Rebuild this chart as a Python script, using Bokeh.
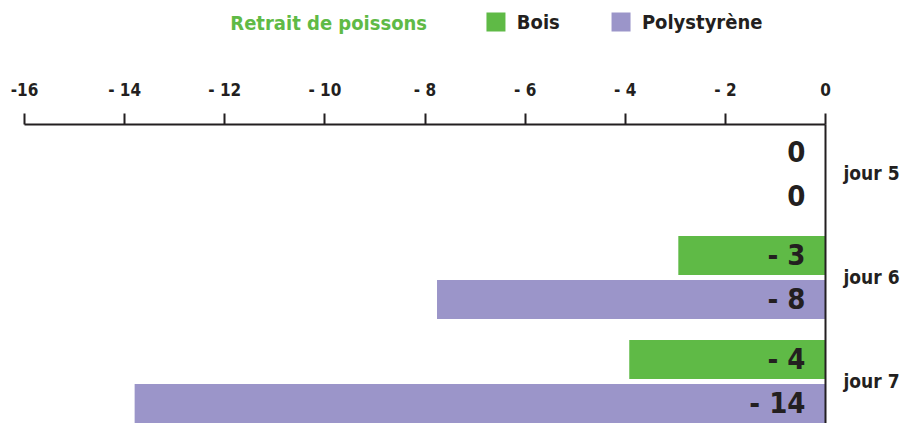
from bokeh.plotting import figure
from bokeh.layouts import column
from bokeh.models import Range1d, FixedTicker, ColumnDataSource
from bokeh.transform import dodge
from bokeh.core.properties import value
from bokeh.embed import file_html
from bokeh.resources import INLINE

days = ["jour 5", "jour 6", "jour 7"]
bois = [0, -2.94, -3.92]
poly = [0, -7.76, -13.8]
bois_labels = ["0", "- 3", "- 4"]
poly_labels = ["0", "- 8", "- 14"]
x_ticks = [-16, -14, -12, -10, -8, -6, -4, -2, 0]
x_tick_labels = ["-16", "- 14", "- 12", "- 10", "- 8", "- 6", "- 4", "- 2", "0"]
chart_title = "Retrait de poissons"
series_names = ["Bois", "Polystyrène"]

GREEN = "#5fba46"
PURPLE = "#9b95c9"
DARK = "#231f20"
FONT = "'DejaVu Sans Condensed', 'Roboto', sans-serif"
W = 903
TOP_H = 44
MAIN_H = 379

# ---------- legend strip (pixel coordinates) ----------
top = figure(width=W, height=TOP_H, x_range=Range1d(0, W), y_range=Range1d(TOP_H, 0),
             output_backend="svg", toolbar_location=None,
             min_border_left=0, min_border_right=0, min_border_top=0, min_border_bottom=0)
top.axis.visible = False
top.grid.visible = False
top.outline_line_color = None
top.text(x=[232], y=[22], text=[chart_title], text_font=value(FONT), text_font_style="bold",
         text_font_size="20px", text_color=GREEN, text_baseline="middle", text_align="left")
leg_src = ColumnDataSource(dict(sx=[531.5, 672.5], tx=[555, 696], y=[21.5, 21.5],
                                name=series_names, color=[GREEN, PURPLE]))
top.scatter(x="sx", y="y", marker="square", size=19, fill_color="color", line_color=None,
            source=leg_src)
top.text(x="tx", y="y", text="name", source=leg_src, text_font=value(FONT),
         text_font_style="bold", text_font_size="20px", text_color=DARK,
         text_baseline="middle", text_align="left")

# ---------- main chart ----------
pos = list(range(len(days)))
src = ColumnDataSource(dict(pos=pos, bois=bois, poly=poly, zero=[0] * len(days),
                            bl=bois_labels, pl=poly_labels))

p = figure(width=W, height=MAIN_H, x_range=Range1d(-16, 0), y_range=Range1d(2.404, -0.471),
           output_backend="svg", toolbar_location=None,
           x_axis_location="above", y_axis_location="right",
           min_border_left=24, min_border_right=78, min_border_top=80, min_border_bottom=0)
p.grid.visible = False
p.outline_line_color = None

OFF = 0.2115
H = 0.375
p.hbar(y=dodge("pos", -OFF), left="bois", right="zero", height=H, source=src,
       fill_color=GREEN, line_color=None)
p.hbar(y=dodge("pos", OFF), left="poly", right="zero", height=H, source=src,
       fill_color=PURPLE, line_color=None)

for col, off in (("bl", -OFF), ("pl", OFF)):
    p.text(x="zero", y=dodge("pos", off), text=col, source=src, text_align="right",
           text_baseline="middle", x_offset=-20, text_font=value(FONT), text_font_style="bold",
           text_font_size="29px", text_color=DARK)

xa = p.xaxis[0]
xa.ticker = FixedTicker(ticks=x_ticks)
xa.major_label_overrides = dict(zip(x_ticks, x_tick_labels))
xa.axis_line_width = 2
xa.axis_line_color = DARK
xa.major_tick_line_width = 2
xa.major_tick_line_color = DARK
xa.major_tick_out = 11
xa.major_tick_in = 0
xa.minor_tick_out = 0
xa.minor_tick_in = 0
xa.major_label_standoff = 14
xa.major_label_text_font = FONT
xa.major_label_text_font_style = "bold"
xa.major_label_text_font_size = "17px"
xa.major_label_text_color = DARK

ya = p.yaxis[0]
ya.ticker = FixedTicker(ticks=pos)
ya.major_label_overrides = dict(zip(pos, days))
ya.axis_line_width = 2
ya.axis_line_color = DARK
ya.major_tick_out = 0
ya.major_tick_in = 0
ya.minor_tick_out = 0
ya.minor_tick_in = 0
ya.major_label_standoff = 18
ya.major_label_text_font = FONT
ya.major_label_text_font_style = "bold"
ya.major_label_text_font_size = "19px"
ya.major_label_text_color = DARK

layout = column(top, p, spacing=0)
open("out.html", "w").write(file_html(layout, INLINE))
